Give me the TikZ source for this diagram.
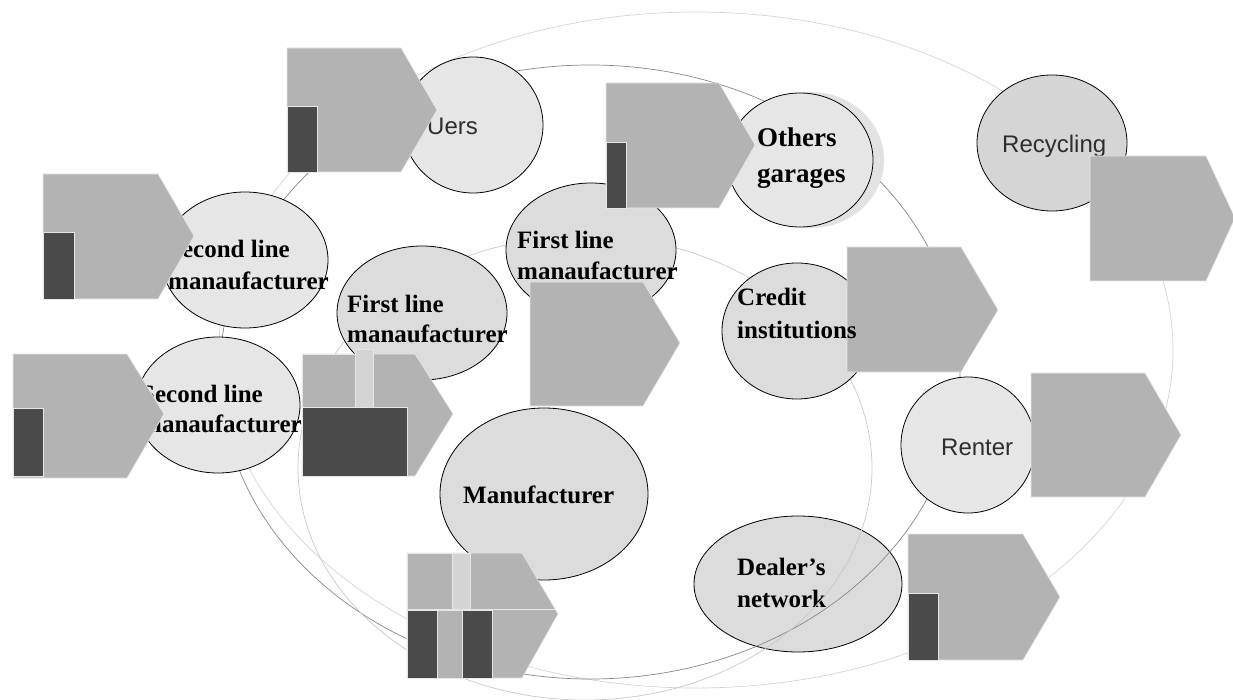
\documentclass[tikz,border=0pt]{standalone}
\usepackage{fontspec}
\setmainfont{Liberation Serif}
\setsansfont{Liberation Sans}
\usetikzlibrary{shapes.geometric}

\definecolor{tagGray}{HTML}{B3B3B3}
\definecolor{tagEdge}{HTML}{E6E6E6}
\definecolor{barDark}{HTML}{4A4A4A}
\definecolor{stripGray}{HTML}{D4D4D4}
\definecolor{bubLight}{HTML}{E6E6E6}
\definecolor{bubMid}{HTML}{DCDCDC}
\definecolor{bubDark}{HTML}{D5D5D5}
\definecolor{shadowGray}{HTML}{E2E2E2}
\definecolor{ringLight}{HTML}{D4D4D4}
\definecolor{ringMid}{HTML}{C8C8C8}
\definecolor{ringDark}{HTML}{878787}

\begin{document}
\begin{tikzpicture}[
        x = 1pt, y = -1pt,
        bubble/.style = {ellipse, draw = black, line width = .8pt, fill = #1, inner sep = 0},
        ring/.style = {draw = #1, line width = .7pt},
        tag/.style = {fill = tagGray, draw = tagEdge, line width = .6pt},
        bar/.style = {fill = barDark, draw = tagEdge, line width = .6pt},
        strip/.style = {fill = stripGray, draw = tagEdge, line width = .6pt},
        bold/.style = {font = \bfseries\fontsize{25}{#1}\selectfont, align = left, anchor = base west, inner sep = 0},
        bold/.default = 32,
        plain/.style = {font = \sffamily\fontsize{24}{28}\selectfont, text = black!82, anchor = base west, inner sep = 0}
    ]
    \useasboundingbox (0,0) rectangle (1233,700);

    % dealer's network lies under the rings
    \node[bubble = bubMid, minimum width = 208pt, minimum height = 136pt] (dealer) at (798,584) {};
    \node[bold] (dealer-t) at (737,607) {Dealer’s\\network};

    % rings
    \draw[ring = ringLight] (696,350) ellipse [x radius = 477, y radius = 338];
    \draw[ring = ringDark] (590,372) ellipse [x radius = 370, y radius = 307];
    \draw[ring = ringMid] (585,468) ellipse [x radius = 287, y radius = 232];

    % bubbles
    \node[bubble = bubLight, minimum width = 140pt, minimum height = 136pt] (uers) at (473,125) {};
    \node[bubble = bubLight, minimum width = 166pt, minimum height = 136pt] (second-a) at (245,260) {};
    \node[bubble = bubLight, minimum width = 164pt, minimum height = 136pt] (second-b) at (218,405) {};
    \node[bubble = bubMid, minimum width = 170pt, minimum height = 134pt] (first-a) at (591,250) {};
    \node[bubble = bubMid, minimum width = 170pt, minimum height = 134pt] (first-b) at (422,313) {};
    \node[ellipse, fill = shadowGray, minimum width = 146pt, minimum height = 136pt, inner sep = 0] (others-sh) at (811,160) {};
    \node[bubble = bubLight, minimum width = 146pt, minimum height = 134pt] (others) at (800,160) {};
    \node[bubble = bubDark, minimum width = 150pt, minimum height = 136pt] (recycling) at (1052,143) {};
    \node[bubble = bubMid, minimum width = 150pt, minimum height = 136pt] (credit) at (797,331) {};
    \node[bubble = bubMid, minimum width = 208pt, minimum height = 172pt] (maker) at (544,494) {};
    \node[bubble = bubLight, minimum width = 134pt, minimum height = 136pt] (renter) at (968,445) {};

    % labels under the tags
    \node[plain] (uers-t) at (427,135) {Uers};
    \node[plain] (recycling-t) at (1002,153) {Recycling};
    \node[plain] (renter-t) at (941,455) {Renter};
    \node[bold] (second-a-t) at (168,290) {Second line\\manaufacturer};
    \node[bold = 30] (second-b-t) at (141,432) {Second line\\manaufacturer};
    \node[bold] (first-a-t) at (517,280) {First line\\manaufacturer};
    \node[bold = 30] (first-b-t) at (347,342) {First line\\manaufacturer};
    \node[bold, font = \bfseries\fontsize{27}{36}\selectfont] (others-t) at (757,183) {Others\\garages};
    \node[bold] (maker-t) at (463,503) {Manufacturer};

    % tags
    \begin{scope}[shift={(287,48)}]
        \filldraw[tag] (0,0) -- (114,0) -- (150,62) -- (114,124) -- (0,124) -- cycle;
        \filldraw[bar] (0,58) rectangle (30,124);
    \end{scope}
    \begin{scope}[shift={(43,174)}]
        \filldraw[tag] (0,0) -- (115,0) -- (151,62) -- (115,125) -- (0,125) -- cycle;
        \filldraw[bar] (0,58) rectangle (31,125);
    \end{scope}
    \begin{scope}[shift={(13,354)}]
        \filldraw[tag] (0,0) -- (114,0) -- (151,60) -- (114,124) -- (0,124) -- cycle;
        \filldraw[bar] (0,54) rectangle (30,122);
    \end{scope}
    \begin{scope}[shift={(606,83)}]
        \filldraw[tag] (0,0) -- (113,0) -- (149,62) -- (113,125) -- (0,125) -- cycle;
        \filldraw[bar] (0,59) rectangle (20,125);
    \end{scope}
    \begin{scope}[shift={(1090,156)}]
        \filldraw[tag] (0,0) -- (116,0) -- (145,62) -- (116,125) -- (0,125) -- cycle;
    \end{scope}
    \begin{scope}[shift={(530,282)}]
        \filldraw[tag] (0,0) -- (113,0) -- (150,61) -- (113,124) -- (0,124) -- cycle;
    \end{scope}
    \begin{scope}[shift={(847,247)}]
        \filldraw[tag] (0,0) -- (114,0) -- (151,63) -- (114,125) -- (0,125) -- cycle;
    \end{scope}
    \begin{scope}[shift={(1031,373)}]
        \filldraw[tag] (0,0) -- (114,0) -- (150,62) -- (114,124) -- (0,124) -- cycle;
    \end{scope}
    \begin{scope}[shift={(908,534)}]
        \filldraw[tag] (0,0) -- (115,0) -- (152,63) -- (115,126) -- (0,126) -- cycle;
        \filldraw[bar] (0,59) rectangle (30,126);
    \end{scope}
    \begin{scope}[shift={(302,354)}]
        \filldraw[tag] (0,0) -- (113,0) -- (151,60) -- (113,122) -- (0,122) -- cycle;
        \filldraw[tag] (0,0) rectangle (53,53);
        \filldraw[strip] (53,-5) rectangle (71,53);
        \filldraw[bar] (0,53) rectangle (105,122);
    \end{scope}
    \begin{scope}[shift={(407,553)}]
        \filldraw[tag] (0,0) -- (115,0) -- (151,61) -- (115,125) -- (0,125) -- cycle;
        \draw[tagEdge, line width = .6pt] (0,56) -- (148,56);
        \filldraw[tag] (0,0) rectangle (45,56);
        \filldraw[strip] (45,0) rectangle (63,56);
        \filldraw[bar] (0,57) rectangle (30,125);
        \filldraw[tag] (30,57) rectangle (55,125);
        \filldraw[bar] (55,57) rectangle (85,125);
    \end{scope}

    % label over its tag
    \node[bold, font = \bfseries\fontsize{25}{33}\selectfont] (credit-t) at (737,338) {Credit\\institutions};
\end{tikzpicture}
\end{document}
